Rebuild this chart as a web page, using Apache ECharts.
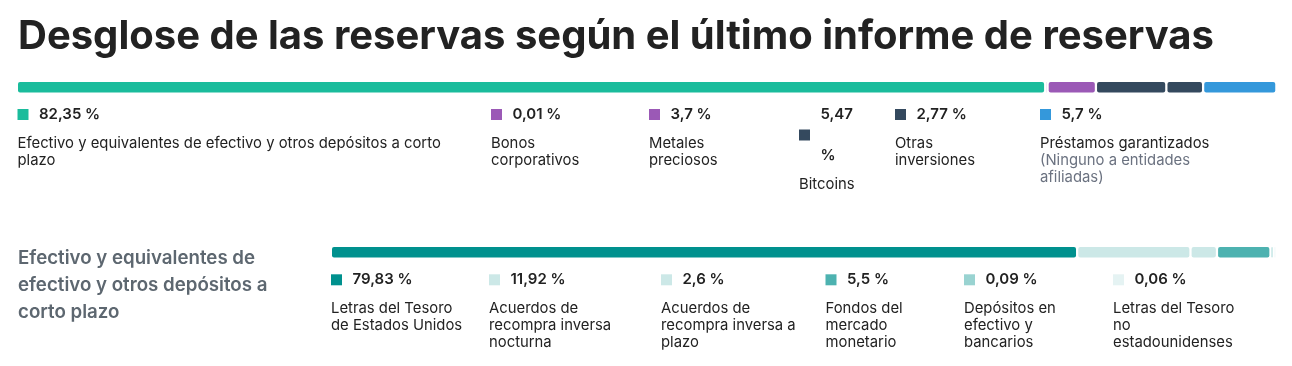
<!DOCTYPE html>
<html><head><meta charset="utf-8">
<script src="https://cdn.jsdelivr.net/npm/echarts@6/dist/echarts.min.js"></script>
<style>html,body{margin:0;padding:0;background:#fff}#c{width:1292px;height:366px}</style>
</head><body><div id="c"></div>
<script>
// ---------- DATA ----------
const mainTitle = 'Desglose de las reservas según el último informe de reservas';
const topLabels = ['Efectivo y equivalentes de efectivo y otros depósitos a corto plazo', 'Bonos corporativos', 'Metales preciosos', 'Bitcoins', 'Otras inversiones', 'Préstamos garantizados'];
const topNotes = ['', '', '', '', '', '(Ninguno a entidades afiliadas)'];
const topValues = [82.35, 0.01, 3.7, 5.47, 2.77, 5.7];
const subHeading = 'Efectivo y equivalentes de efectivo y otros depósitos a corto plazo';
const subLabels = ['Letras del Tesoro de Estados Unidos', 'Acuerdos de recompra inversa nocturna', 'Acuerdos de recompra inversa a plazo', 'Fondos del mercado monetario', 'Depósitos en efectivo y bancarios', 'Letras del Tesoro no estadounidenses'];
const subValues = [79.83, 11.92, 2.6, 5.5, 0.09, 0.06];

// ---------- STYLE / LAYOUT ----------
const FONT = 'Inter, "Noto Sans", sans-serif';
const topColors = ['#1abc9c', '#9b59b6', '#9b59b6', '#34495e', '#34495e', '#3498db'];
const subColors = ['#00918e', '#cce8e7', '#cce8e7', '#4db2b0', '#99d3d1', '#e5f3f3'];
const topLegendX = [17.5, 491, 649, 799, 895, 1040];
const topValueW = [200, 200, 200, 40, 200, 200];
const topLabelW = [445, 120, 110, 80, 100, 185];
const subLegendX = [331, 489, 661, 825.5, 964, 1113];
const subValueW = [200, 200, 200, 200, 200, 200];
const subLabelW = [136, 140, 145, 100, 110, 130];
const GAP = 2.25;
const VLH = 41;      // value line height
const LLH = 17;      // label line height
const VALUE_SIZE = 15, LABEL_SIZE = 14.85;

const mctx = document.createElement('canvas').getContext('2d');
function measure(t, weight, size) { mctx.font = weight + ' ' + size + 'px ' + FONT; return mctx.measureText(t).width; }
function wrap(text, width, weight, size) {
  const words = text.split(' ');
  const lines = [];
  let cur = '';
  words.forEach(w => {
    const test = cur ? cur + ' ' + w : w;
    if (cur && measure(test, weight, size) > width) { lines.push(cur); cur = w; }
    else cur = test;
  });
  if (cur) lines.push(cur);
  return lines;
}
function fmt(v) { return String(v).replace('.', ',') + ' %'; }
function segData(values) { let acc = 0; return values.map((v, i) => { const d = [acc, v, i, 0]; acc += v; return d; }); }
function renderSeg(colors) {
  return function (params, api) {
    const start = api.value(0), v = api.value(1), idx = api.value(2);
    const p = api.coord([start, api.value(3)]);
    const sz = api.size([v, 1]);
    return { type: 'rect', shape: { x: p[0] + idx * GAP, y: p[1] - sz[1] / 2, width: sz[0], height: sz[1], r: 2 }, style: { fill: colors[idx] } };
  };
}
function legendItems(values, labels, notes, colors, xs, valueW, labelW, valueTop) {
  const els = [];
  values.forEach((v, i) => {
    const vLines = wrap(fmt(v), valueW[i], 600, VALUE_SIZE);
    const blockH = vLines.length * VLH;
    els.push({ type: 'rect', shape: { x: xs[i], y: valueTop + blockH / 2 - 5.5, width: 11, height: 11 }, style: { fill: colors[i] }, silent: true });
    els.push({ type: 'text', x: xs[i] + 21.5, y: valueTop, silent: true,
      style: { text: vLines.join('\n'), lineHeight: VLH, fontSize: VALUE_SIZE, fontWeight: 600, fontFamily: FONT, fill: '#222', verticalAlign: 'top' } });
    const note = notes ? notes[i] : '';
    const lLines = wrap(labels[i], labelW[i], 400, LABEL_SIZE);
    const nLines = note ? wrap(note, labelW[i], 400, LABEL_SIZE) : [];
    const text = lLines.map(l => '{a|' + l + '}').concat(nLines.map(l => '{b|' + l + '}')).join('\n');
    els.push({ type: 'text', x: xs[i], y: valueTop + blockH, silent: true,
      style: { text, verticalAlign: 'top', fontSize: LABEL_SIZE, fontFamily: FONT,
        rich: { a: { fill: '#222', fontSize: LABEL_SIZE, fontFamily: FONT, lineHeight: LLH }, b: { fill: '#6b7280', fontSize: LABEL_SIZE, fontFamily: FONT, lineHeight: LLH } } } });
  });
  return els;
}

const chart = echarts.init(document.getElementById('c'), null, { renderer: 'canvas' });
const graphics = [
  { type: 'text', x: 18, y: 37, silent: true, style: { text: mainTitle, fontSize: 40, fontWeight: 700, fontFamily: FONT, fill: '#222', verticalAlign: 'middle' } },
  { type: 'text', x: 18, y: 245.5, silent: true, style: { text: wrap(subHeading, 275, 600, 18.7).join('\n'), lineHeight: 26.7, fontSize: 18.7, fontWeight: 600, fontFamily: FONT, fill: '#5d6770', verticalAlign: 'top' } }
].concat(
  legendItems(topValues, topLabels, topNotes, topColors, topLegendX, topValueW, topLabelW, 94),
  legendItems(subValues, subLabels, null, subColors, subLegendX, subValueW, subLabelW, 259.3)
);

chart.setOption({
  animation: false,
  backgroundColor: '#fff',
  grid: [
    { left: 18, right: 28, top: 82, height: 10.5 },
    { left: 332, right: 28, top: 247, height: 10.5 }
  ],
  xAxis: [
    { gridIndex: 0, type: 'value', min: 0, max: 100, show: false },
    { gridIndex: 1, type: 'value', min: 0, max: 100, show: false }
  ],
  yAxis: [
    { gridIndex: 0, type: 'category', data: ['reservas'], show: false },
    { gridIndex: 1, type: 'category', data: ['efectivo'], show: false }
  ],
  series: [
    { type: 'custom', xAxisIndex: 0, yAxisIndex: 0, data: segData(topValues), renderItem: renderSeg(topColors), encode: { x: [0, 1], y: 3 }, silent: true },
    { type: 'custom', xAxisIndex: 1, yAxisIndex: 1, data: segData(subValues), renderItem: renderSeg(subColors), encode: { x: [0, 1], y: 3 }, silent: true }
  ],
  graphic: graphics
});
</script></body></html>
